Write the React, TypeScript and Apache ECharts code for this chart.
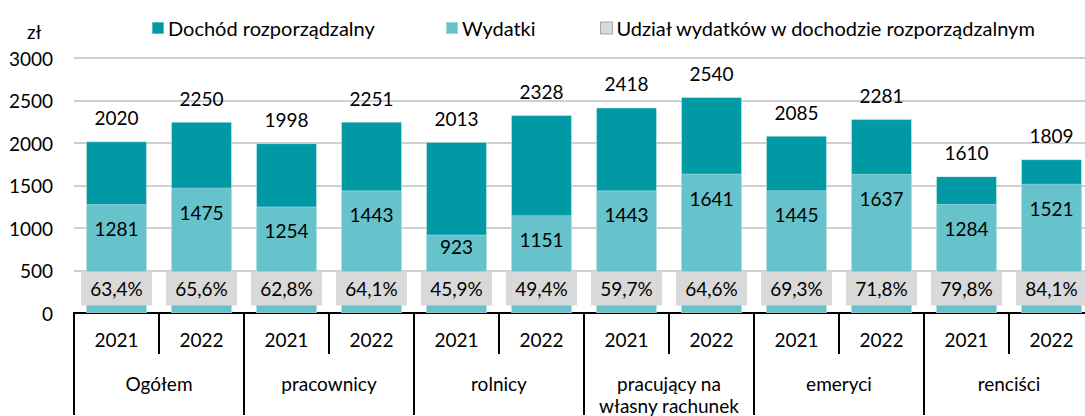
import React, { useEffect, useRef } from "react";
import * as echarts from "echarts";

const years = ["2021", "2022", "2021", "2022", "2021", "2022", "2021", "2022", "2021", "2022", "2021", "2022"];
const groups = ["Ogółem", "pracownicy", "rolnicy", "pracujący na\nwłasny rachunek", "emeryci", "renciści"];
const dochod = [2020, 2250, 1998, 2251, 2013, 2328, 2418, 2540, 2085, 2281, 1610, 1809];
const wydatki = [1281, 1475, 1254, 1443, 923, 1151, 1443, 1641, 1445, 1637, 1284, 1521];
const udzial = [63.4, 65.6, 62.8, 64.1, 45.9, 49.4, 59.7, 64.6, 69.3, 71.8, 79.8, 84.1];
const yTicks = { min: 0, max: 3000, interval: 500 };

const seriesNames = ["Dochód rozporządzalny", "Wydatki", "Udział wydatków w dochodzie rozporządzalnym"];

const DARK = "#0099A4";
const LIGHT = "#66C2CB";
const GREY = "#D9D9D9";
const TXT = "#000000";
const FONT = "Lato";

export default function App() {
  const ref = useRef<HTMLDivElement>(null);
  useEffect(() => {
    if (!ref.current) return;
    const chart = echarts.init(ref.current, undefined, { renderer: "svg" });
    const legendBase = {
      top: 13,
      itemWidth: 12,
      itemHeight: 12,
      itemGap: 4,
      icon: "rect",
      textStyle: { fontFamily: FONT, fontSize: 20, color: TXT, padding: [0, 0, 0, -1] },
    };
    chart.setOption({
      animation: false,
      textStyle: { fontFamily: FONT },
      legend: [
        { ...legendBase, left: 146, data: [seriesNames[0]] },
        { ...legendBase, left: 440, data: [seriesNames[1]] },
        {
          ...legendBase,
          left: 595,
          data: [{ name: seriesNames[2], itemStyle: { color: GREY, borderColor: "#A6A6A6", borderWidth: 1 } }],
        },
      ],
      graphic: [
        { type: "text", left: 27, top: 22, style: { text: "zł", fontFamily: FONT, fontSize: 19, fill: TXT } },
      ],
      grid: { left: 74, top: 58, width: 1020, height: 255.5, containLabel: false },
      xAxis: [
        {
          type: "category",
          data: years,
          position: "bottom",
          axisLine: { show: true, lineStyle: { color: "#000", width: 2 } },
          axisTick: { show: true, interval: 0, length: 41, lineStyle: { color: "#000", width: 2 } },
          axisLabel: { interval: 0, margin: 17, fontSize: 19, fontFamily: FONT, color: TXT },
        },
        {
          type: "category",
          data: groups,
          position: "bottom",
          axisLine: { show: true, lineStyle: { color: "#000", width: 2 } },
          axisTick: { show: true, interval: 0, length: 102, lineStyle: { color: "#000", width: 2 } },
          axisLabel: { interval: 0, margin: 59, fontSize: 19, lineHeight: 22, fontFamily: FONT, color: TXT },
        },
      ],
      yAxis: [
        {
          type: "value",
          min: yTicks.min,
          max: yTicks.max,
          interval: yTicks.interval,
          axisLine: { show: false },
          axisTick: { show: false },
          axisLabel: { margin: 21, fontSize: 19, fontFamily: FONT, color: TXT, formatter: (v: number) => String(v) },
          splitLine: { lineStyle: { color: "#BFBFBF", width: 1.5 } },
        },
        { type: "value", min: 0, max: 1e9, show: false, splitLine: { show: false } },
      ],
      series: [
        {
          name: seriesNames[0],
          type: "bar",
          xAxisIndex: 0,
          yAxisIndex: 0,
          barWidth: 61,
          barGap: "-100%",
          itemStyle: { color: DARK, borderColor: "rgba(255,255,255,0.35)", borderWidth: 1 },
          label: { show: true, position: "top", distance: 14, fontSize: 19, fontFamily: FONT, color: TXT },
          data: dochod,
        },
        {
          name: seriesNames[1],
          type: "bar",
          xAxisIndex: 0,
          yAxisIndex: 0,
          barWidth: 61,
          barGap: "-100%",
          itemStyle: { color: LIGHT, borderColor: "rgba(255,255,255,0.35)", borderWidth: 1 },
          label: { show: true, position: "insideTop", distance: 15, fontSize: 19, fontFamily: FONT, color: TXT },
          data: wydatki.map((v) => (v < 1000 ? { value: v, label: { distance: 2 } } : v)),
        },
        {
          name: seriesNames[2],
          type: "bar",
          xAxisIndex: 0,
          yAxisIndex: 1,
          barWidth: 61,
          barGap: "-100%",
          itemStyle: { color: GREY },
          label: {
            show: true,
            position: "insideBottom",
            distance: 7.5,
            width: 71,
            height: 34,
            lineHeight: 34,
            align: "center",
            backgroundColor: GREY,
            fontSize: 19,
            fontFamily: FONT,
            color: TXT,
            formatter: (p: any) => p.value.toFixed(1).replace(".", ",") + "%",
          },
          data: udzial,
        },
      ],
    });
    return () => chart.dispose();
  }, []);
  return (
    <div style={{ position: "fixed", left: 0, top: 0, width: 1085, height: 416, overflow: "hidden", background: "#fff" }}>
      <div ref={ref} style={{ width: 1094, height: 416 }} />
    </div>
  );
}
